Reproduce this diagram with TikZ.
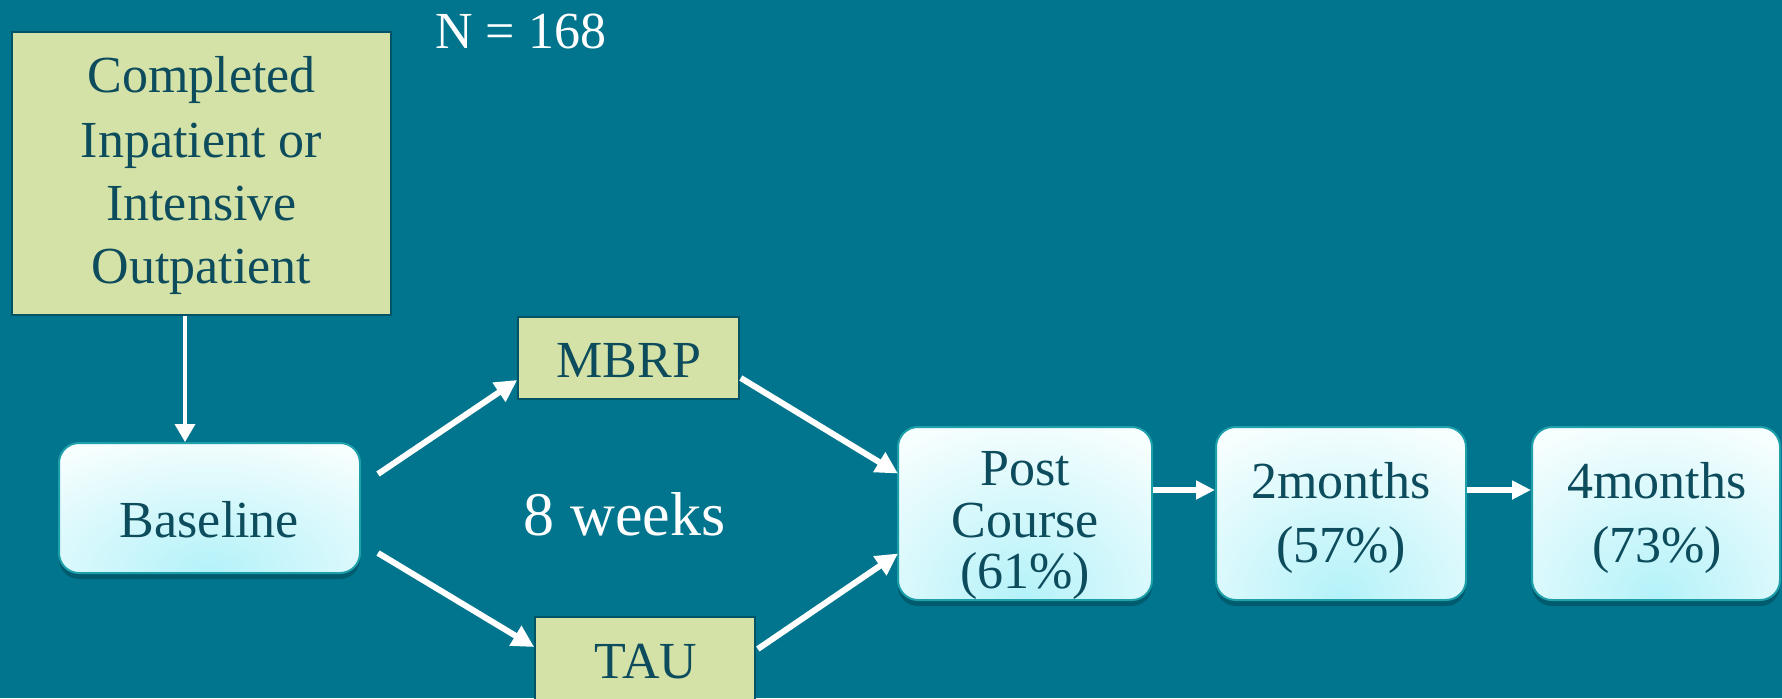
\documentclass[tikz,border=0pt]{standalone}
\usepackage{fontspec}
\setmainfont{Liberation Serif}
\usetikzlibrary{arrows.meta,calc,shadows}
\definecolor{bg}{RGB}{0,117,141}
\definecolor{bgdark}{RGB}{0,84,102}
\definecolor{gfill}{RGB}{212,225,167}
\definecolor{txt}{RGB}{13,76,92}
\definecolor{rborder}{RGB}{30,160,170}
\definecolor{rfill}{RGB}{247,254,254}
\definecolor{glow}{RGB}{180,242,249}
\begin{document}
\begin{tikzpicture}[x=0.5pt,y=-0.5pt,
  gbox/.style={draw=bgdark, line width=0.8pt, fill=gfill, inner sep=0pt},
  rbox/.style={draw=rborder, line width=1pt, rounded corners=10pt, fill=rfill, inner sep=0pt,
    drop shadow={shadow xshift=0pt, shadow yshift=-3pt, opacity=0.22, fill=black},
    path picture={\shade[inner color=glow, outer color=rfill]
      let \p1=($(path picture bounding box.north east)-(path picture bounding box.south west)$) in
      ([yshift=2pt]path picture bounding box.south) ellipse [x radius={0.85*\x1}, y radius={1.05*\y1}];}},
  lbl/.style={font=\fontsize{26}{31}\selectfont, text=txt, anchor=base, inner sep=0pt},
  wlbl/.style={font=\fontsize{26}{31}\selectfont, text=white, inner sep=0pt},
  arr/.style={draw=white, line width=3pt, -{Triangle[length=11pt,width=11pt]}},
  arrh/.style={draw=white, line width=3pt, -{Triangle[length=9.5pt,width=9pt]}},
  arrv/.style={draw=white, line width=1.8pt, -{Triangle[length=9pt,width=10pt]}},
]
\fill[bg] (0,0) rectangle (1782,698);
\useasboundingbox (0,0) rectangle (1782,698);

% green boxes
\node[gbox, minimum width=189.5pt, minimum height=141.5pt] (comp) at (201.5,173.5) {};
\node[lbl] (c1) at (201.5,92) {Completed};
\node[lbl] (c2) at (201.5,157) {Inpatient or};
\node[lbl] (c3) at (201.5,220) {Intensive};
\node[lbl] (c4) at (201.5,283) {Outpatient};

\node[gbox, minimum width=110.5pt, minimum height=41pt] (mbrp) at (628.5,358) {};
\node[lbl] (mbrpt) at (629,377) {MBRP};
\node[gbox, minimum width=110pt, minimum height=44pt] (tau) at (645,661) {};
\node[lbl] (taut) at (646,678) {TAU};

% rounded boxes
\node[rbox, minimum width=150.5pt, minimum height=65pt] (base) at (209.5,508) {};
\node[lbl] (baset) at (209.5,537) {Baseline};

\node[rbox, minimum width=127pt, minimum height=86.5pt] (post) at (1025,513.5) {};
\node[lbl] (p1) at (1025,485) {Post};
\node[lbl] (p2) at (1025,537) {Course};
\node[lbl] (p3) at (1025,588) {(61\%)};

\node[rbox, minimum width=125pt, minimum height=86.5pt] (m2) at (1341,513.5) {};
\node[lbl] (m2a) at (1341,498) {2months};
\node[lbl] (m2b) at (1341,562) {(57\%)};

\node[rbox, minimum width=124pt, minimum height=86.5pt] (m4) at (1656,513.5) {};
\node[lbl] (m4a) at (1657,498) {4months};
\node[lbl] (m4b) at (1657,562) {(73\%)};

% free labels
\node[wlbl, anchor=base west] (n) at (435,48) {N = 168};
\node[wlbl, anchor=base, font=\fontsize{31}{37}\selectfont] (weeks) at (624.5,535) {8 weeks};

% connectors
\draw[arrv] ([xshift=-8.25pt]comp.south) -- ([xshift=-8.25pt]comp.south |- base.north);
\draw[arr] ($(base.east)+(17,-34)$) -- ($(mbrp.west)+(0,22)$);
\draw[arr] ($(base.east)+(17,45)$) -- ($(tau.west)+(0,-14)$);
\draw[arr] ($(mbrp.east)+(1,20)$) -- ($(post.west)+(1,-40)$);
\draw[arr] ($(tau.east)+(2,-12)$) -- ($(post.west)+(1,40)$);
\draw[arrh] ($(post.east)+(0,-23.5)$) -- ($(m2.west)+(0,-23.5)$);
\draw[arrh] ($(m2.east)+(0,-23.5)$) -- ($(m4.west)+(0,-23.5)$);
\end{tikzpicture}
\end{document}
